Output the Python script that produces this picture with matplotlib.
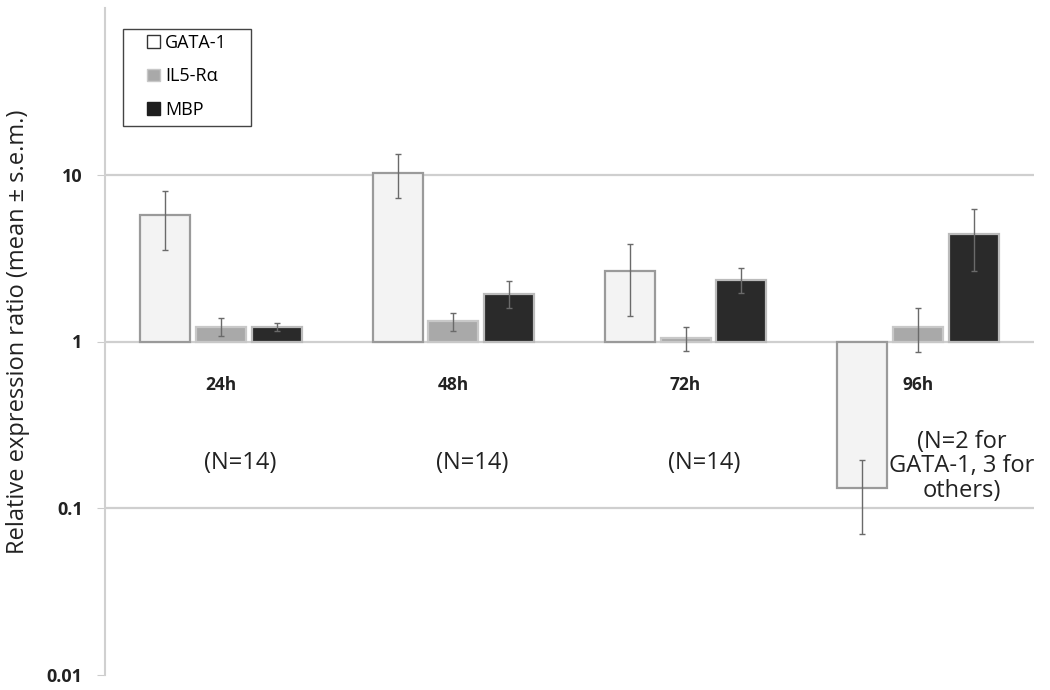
import matplotlib
matplotlib.use("Agg")
import matplotlib.pyplot as plt
from matplotlib.patches import Rectangle
import numpy as np

categories = ["24h", "48h", "72h", "96h"]
series = ["GATA-1", "IL5-R\u03b1", "MBP"]
gata1 = [5.76, 10.3, 2.63, 0.133]
gata1_err = [2.2, 3.0, 1.2, 0.063]
il5ra = [1.23, 1.32, 1.05, 1.23]
il5ra_err = [0.15, 0.17, 0.17, 0.36]
mbp = [1.22, 1.94, 2.35, 4.43]
mbp_err = [0.07, 0.35, 0.4, 1.8]
n_labels = ["(N=14)", "(N=14)", "(N=14)", "(N=2 for\nGATA-1, 3 for\nothers)"]
ytick_vals = [0.01, 0.1, 1, 10]
ytick_labels = ["0.01", "0.1", "1", "10"]

plt.rcParams["font.family"] = ["Open Sans", "DejaVu Sans"]

fills = ["#f3f3f3", "#a9a9a9", "#2a2a2a"]
edges = ["#9a9a9a", "#c8c8c8", "#bbbbbb"]
W, H = 1050, 690

fig = plt.figure(figsize=(10.5, 6.9), dpi=100)
ax = fig.add_axes([105 / W, 1 - 675 / H, 929 / W, 667 / H])
ax.set_yscale("log")
ax.set_ylim(0.01, 100)
ax.set_xlim(-0.5, 3.5)

for g in [10, 1, 0.1]:
    ax.axhline(g, color="#cfcfcf", lw=1.6, zorder=0)

x = np.arange(len(categories))
w = 0.215
off = 0.24
data = [(gata1, gata1_err), (il5ra, il5ra_err), (mbp, mbp_err)]
handles = []
for k, (vals, errs) in enumerate(data):
    xs = x + (k - 1) * off
    heights = [v - 1 for v in vals]
    ax.bar(xs, heights, w, bottom=1, color=fills[k], edgecolor=edges[k],
           linewidth=1.6, zorder=2)
    ax.errorbar(xs, vals, yerr=errs, fmt="none", ecolor="#6a6a6a",
                elinewidth=1.0, capsize=2.5, capthick=1.0, zorder=3)

leg_fc = ["#ffffff", "#a9a9a9", "#1e1e1e"]
leg_ec = ["#333333", "#c8c8c8", "#1e1e1e"]
for k in range(3):
    handles.append(Rectangle((0, 0), 1, 1, facecolor=leg_fc[k],
                             edgecolor=leg_ec[k], lw=1.0, label=series[k]))

for i, c in enumerate(categories):
    ax.text(i, 0.545, c, ha="center", va="center", fontsize=12.5,
            fontweight="bold", color="#222222")
for i, t in enumerate(n_labels):
    if i < 3:
        ax.text(i + 0.08, 0.188, t, ha="center", va="center", fontsize=17,
                color="#222222")
    else:
        ax.text(i + 0.19, 0.178, t, ha="center", va="center", fontsize=17,
                color="#222222", linespacing=1.02)

ax.set_xticks([])
ax.minorticks_off()
ax.set_yticks(ytick_vals)
ax.set_yticklabels(ytick_labels, fontsize=13, fontweight="bold", color="#222222")
ax.tick_params(axis="y", length=6, color="#cccccc", pad=10)
for s in ["top", "right", "bottom"]:
    ax.spines[s].set_visible(False)
ax.spines["left"].set_color("#d0d0d0")
ax.spines["left"].set_linewidth(1.5)

fig.text(18 / W, 1 - 332 / H, "Relative expression ratio (mean \u00b1 s.e.m.)",
         rotation=90, ha="center", va="center", fontsize=17, color="#222222")

leg = ax.legend(handles=handles, loc="upper left",
                bbox_to_anchor=(147 / W, 1 - 34 / H),
                bbox_transform=fig.transFigure, fontsize=13, frameon=False,
                handlelength=0.7, handleheight=0.7, handletextpad=0.3,
                labelspacing=0.85, borderpad=0, borderaxespad=0)
fig.add_artist(Rectangle((123 / W, 1 - 126 / H), 128 / W, 97 / H,
                         transform=fig.transFigure, fill=False,
                         edgecolor="#444444", lw=1.0))

fig.savefig("out.png", dpi=100)
